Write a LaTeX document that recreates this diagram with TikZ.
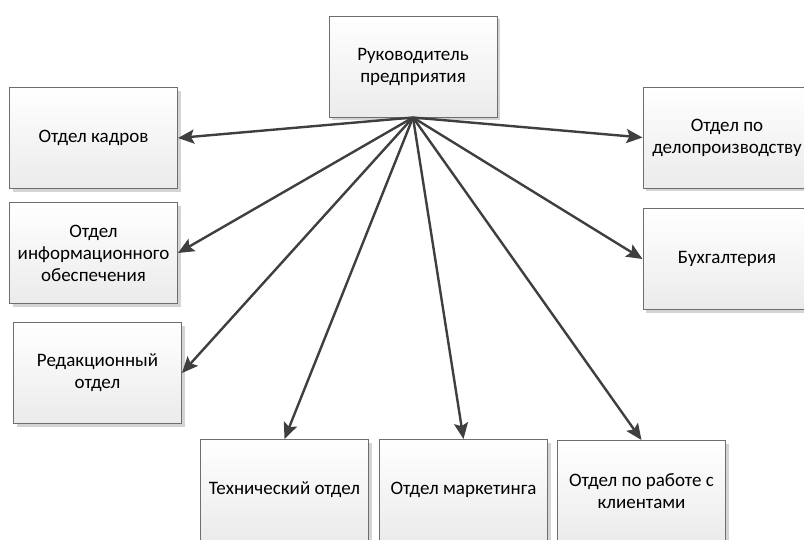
\documentclass[tikz,border=0pt]{standalone}
\usepackage{fontspec}
\setmainfont{Carlito}
\usetikzlibrary{arrows.meta,shadows}

\definecolor{boxborder}{HTML}{6E6E6E}
\definecolor{boxbottom}{HTML}{EBEBEB}
\definecolor{shadowgray}{HTML}{D4D4D4}
\definecolor{arrowgray}{HTML}{3F3F3F}

\tikzset{
  unitbox/.style={
    draw=boxborder, line width=1pt,
    top color=white, bottom color=boxbottom,
    minimum width=168pt, minimum height=101pt,
    align=center, inner sep=2pt,
    font=\fontsize{19}{22}\selectfont,
    drop shadow={shadow xshift=3pt, shadow yshift=-3pt, fill=shadowgray, opacity=1}
  },
  link/.style={
    draw=arrowgray, line width=2.4pt,
    -{Stealth[length=16pt,width=14pt,inset=3pt]}
  }
}

\begin{document}
\begin{tikzpicture}[x=1pt,y=-1pt]
  \useasboundingbox (0,0) rectangle (804,539);
  \clip (0,0) rectangle (804,539);

  % head of the enterprise
  \node[unitbox] (head) at (413,66.5) {Руководитель\\предприятия};

  % departments on the left
  \node[unitbox] (hr)   at (93.5,138)  {Отдел кадров};
  \node[unitbox] (info) at (93.5,253)  {Отдел\\информационного\\обеспечения};
  \node[unitbox] (edit) at (97.5,373)  {Редакционный\\отдел};

  % departments on the right
  \node[unitbox] (docs) at (727,137.5) {Отдел по\\делопроизводству};
  \node[unitbox] (acct) at (727,259)   {Бухгалтерия};

  % departments at the bottom
  \node[unitbox] (tech) at (284.5,490) {Технический отдел};
  \node[unitbox] (mkt)  at (463.5,490) {Отдел маркетинга};
  \node[unitbox] (cli)  at (641.5,491) {Отдел по работе с\\клиентами};

  % links from the head to every department
  \draw[link] (head.south) -- (hr.east);
  \draw[link] (head.south) -- (info.east);
  \draw[link] (head.south) -- (edit.east);
  \draw[link] (head.south) -- (docs.west);
  \draw[link] (head.south) -- (acct.west);
  \draw[link] (head.south) -- (tech.north);
  \draw[link] (head.south) -- (mkt.north);
  \draw[link] (head.south) -- (cli.north);
\end{tikzpicture}
\end{document}
